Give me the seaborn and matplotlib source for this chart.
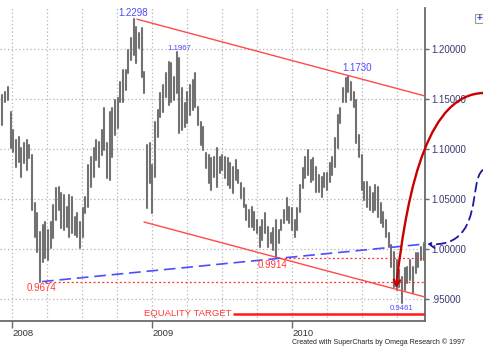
import numpy as np
import pandas as pd
import matplotlib
matplotlib.use("Agg")
import matplotlib.pyplot as plt
from matplotlib.path import Path
from matplotlib.patches import FancyArrowPatch, Rectangle
import seaborn as sns

# ---------------- data (weekly bars) ----------------
start_date = "2007-12-07"
highs = [1.154, 1.157, 1.162, 1.137, 1.119, 1.109, 1.112, 1.101, 1.106, 1.109,
         1.104, 1.094, 1.046, 1.036, 1.017, 1.024, 1.027, 1.019, 1.027, 1.044,
         1.061, 1.062, 1.056, 1.054, 1.042, 1.054, 1.052, 1.032, 1.036, 1.027,
         1.041, 1.052, 1.084, 1.092, 1.101, 1.109, 1.107, 1.119, 1.141, 1.106,
         1.137, 1.141, 1.149, 1.151, 1.167, 1.179, 1.179, 1.199, 1.211, 1.2298,
         1.222, 1.216, 1.221, 1.177, 1.104, 1.106, 1.084, 1.127, 1.139, 1.156,
         1.164, 1.176, 1.187, 1.186, 1.172, 1.1967, 1.191, 1.161, 1.146, 1.157,
         1.164, 1.169, 1.176, 1.142, 1.127, 1.122, 1.096, 1.094, 1.091, 1.092,
         1.101, 1.092, 1.094, 1.092, 1.091, 1.086, 1.082, 1.089, 1.079, 1.066,
         1.061, 1.044, 1.039, 1.042, 1.037, 1.029, 1.022, 1.029, 1.036, 1.022,
         1.016, 1.021, 1.029, 1.019, 1.029, 1.039, 1.051, 1.042, 1.041, 1.029,
         1.041, 1.064, 1.081, 1.092, 1.099, 1.089, 1.091, 1.082, 1.074, 1.072,
         1.076, 1.076, 1.086, 1.092, 1.111, 1.134, 1.141, 1.161, 1.171, 1.1730,
         1.167, 1.157, 1.149, 1.114, 1.094, 1.067, 1.067, 1.062, 1.056, 1.064,
         1.062, 1.046, 1.037, 1.029, 1.016, 1.004, 0.997, 0.989, 0.979, 0.972,
         0.981, 0.982, 0.989, 0.982, 0.996, 0.996, 1.002, 1.006, 1.007]
lows = [1.124, 1.147, 1.149, 1.101, 1.097, 1.082, 1.087, 1.072, 1.086, 1.079,
        1.091, 1.039, 1.012, 0.997, 0.9674, 0.987, 0.991, 0.989, 1.001, 1.011,
        1.029, 1.039, 1.021, 1.019, 1.022, 1.012, 1.016, 1.014, 1.012, 1.001,
        1.012, 1.036, 1.042, 1.062, 1.072, 1.089, 1.082, 1.094, 1.099, 1.071,
        1.069, 1.092, 1.114, 1.121, 1.147, 1.147, 1.159, 1.176, 1.189, 1.194,
        1.186, 1.201, 1.172, 1.156, 1.041, 1.066, 1.036, 1.072, 1.112, 1.132,
        1.137, 1.152, 1.144, 1.147, 1.149, 1.156, 1.116, 1.119, 1.122, 1.126,
        1.134, 1.139, 1.142, 1.124, 1.104, 1.099, 1.081, 1.066, 1.059, 1.072,
        1.062, 1.076, 1.079, 1.071, 1.064, 1.061, 1.056, 1.069, 1.066, 1.051,
        1.042, 1.029, 1.022, 1.022, 1.019, 1.016, 1.002, 1.009, 1.016, 1.002,
        1.006, 0.999, 0.9914, 1.006, 1.019, 1.026, 1.029, 1.026, 1.019, 1.012,
        1.019, 1.037, 1.061, 1.071, 1.074, 1.067, 1.069, 1.057, 1.057, 1.052,
        1.062, 1.059, 1.067, 1.074, 1.082, 1.101, 1.126, 1.147, 1.147, 1.157,
        1.149, 1.142, 1.106, 1.092, 1.059, 1.049, 1.042, 1.039, 1.037, 1.039,
        1.032, 1.026, 1.022, 1.012, 1.002, 0.982, 0.962, 0.959, 0.962, 0.9461,
        0.959, 0.966, 0.969, 0.956, 0.976, 0.982, 0.989, 0.989, 0.992]

year_labels = ["2008", "2009", "2010"]
price_ticks = [0.95, 1.00, 1.05, 1.10, 1.15, 1.20]

# annotation values (decimal year, price)
peak_labels = [("1.2298", 2008.864, 1.236, 7.0, "#4b4bff"),
               ("1.1967", 2009.193, 1.201, 5.6, "#4b4bff"),
               ("1.1730", 2010.464, 1.181, 7.0, "#4b4bff"),
               ("0.9674", 2008.207, 0.961, 7.0, "#ff3b3b"),
               ("0.9914", 2009.864, 0.984, 7.0, "#ff3b3b"),
               ("0.9461", 2010.786, 0.9405, 5.6, "#4b4bff")]
upper_channel = ([2008.893, 2010.95], [1.2298, 1.153])
lower_channel = ([2008.943, 2010.95], [1.027, 0.952])
blue_trend = ([2008.214, 2010.95], [0.9674, 1.005])
support_levels = [(2008.236, 0.9674), (2009.914, 0.9914)]
equality_target = 0.935
equality_start = 2009.579
red_curve = [(2011.364, 1.156), (2010.986, 1.154), (2010.829, 1.069), (2010.743, 0.961)]
blue_curve = [(2011.364, 1.079), (2011.257, 1.069), (2011.379, 1.001), (2010.968, 1.005)]

# ---------------- build frame ----------------
dates = pd.date_range(start_date, periods=len(highs), freq="W-FRI")
dec_year = dates.year + (dates.dayofyear - 1) / np.where(dates.is_leap_year, 366, 365)
df = pd.DataFrame({
    "x": np.concatenate([dec_year, dec_year]),
    "price": np.concatenate([highs, lows]),
    "bar": np.concatenate([np.arange(len(highs)), np.arange(len(highs))]),
})

sns.set_style("white")
plt.rcParams["font.family"] = ["Liberation Sans", "DejaVu Sans"]

W, H = 483, 351
fig = plt.figure(figsize=(W / 100, H / 100), dpi=100)
ax = fig.add_axes([0, 1 - 321 / H, 425 / W, (321 - 8) / H])

XMIN, XMAX = 2007.914, 2010.95
YMIN, YMAX = 0.928, 1.241

# grid
grid_kw = dict(color="#b4b4b4", lw=0.9, ls=(0, (1, 2)), zorder=0)
for q in np.arange(2008.0, 2010.95, 0.25):
    ax.axvline(q, **grid_kw)
for p in price_ticks:
    ax.axhline(p, **grid_kw)

sns.lineplot(data=df, x="x", y="price", units="bar", estimator=None,
             color="#727272", lw=1.5, legend=False, ax=ax, zorder=3)

# channels and levels
ax.plot(*upper_channel, color="#ff4a4a", lw=1.0, zorder=4)
ax.plot(*lower_channel, color="#ff4a4a", lw=1.0, zorder=4)
ax.plot(*blue_trend, color="#4d4dff", lw=1.2, dashes=(7, 3.5), zorder=5)
for x0, lvl in support_levels:
    ax.plot([x0, XMAX], [lvl, lvl], color="#ff2a2a", lw=0.9, ls=(0, (1.5, 2)), zorder=4)
ax.plot([equality_start, XMAX], [equality_target, equality_target],
        color="#ff1a1a", lw=1.8, zorder=4, solid_capstyle="butt")
ax.text(2009.257, equality_target, "EQUALITY TARGET", color="#ff3b3b",
        fontsize=6.8, ha="center", va="center", zorder=6)

for txt, x, y, fs, col in peak_labels:
    ax.text(x, y, txt, color=col, fontsize=fs, ha="center", va="center", zorder=6)

# arrows
codes = [Path.MOVETO, Path.CURVE4, Path.CURVE4, Path.CURVE4]
arr1 = FancyArrowPatch(path=Path(red_curve, codes), arrowstyle="->,head_length=4,head_width=2.2",
                       color="#c80000", lw=1.7, mutation_scale=1, clip_on=False, zorder=7)
ax.add_patch(arr1)
arr2 = FancyArrowPatch(path=Path(blue_curve, codes), arrowstyle="->,head_length=4,head_width=2.5",
                       color="#1a1aa6", lw=1.3, ls=(0, (5, 3)), mutation_scale=1,
                       clip_on=False, zorder=7)
ax.add_patch(arr2)

# axes
ax.set_xlim(XMIN, XMAX)
ax.set_ylim(YMIN, YMAX)
ax.set_xlabel("")
ax.set_ylabel("")
for s in ["left", "top"]:
    ax.spines[s].set_visible(False)
for s in ["right", "bottom"]:
    ax.spines[s].set_color("#6a6a6a")
    ax.spines[s].set_linewidth(1.3)

ax.set_xticks([2008, 2009, 2010])
ax.set_xticklabels(year_labels)
ax.tick_params(axis="x", direction="out", length=5, width=1, color="#6a6a6a",
               labelsize=6.8, labelcolor="#333333", pad=0.5, bottom=True)
for lab in ax.get_xticklabels():
    lab.set_ha("left")

ax.yaxis.tick_right()
ax.set_yticks(price_ticks)
ax.set_yticklabels([("%.5f" % p).lstrip("0") if p < 1 else "%.5f" % p for p in price_ticks])
ax.tick_params(axis="y", direction="out", length=3, width=1, color="#6a6a6a",
               labelsize=7.0, labelcolor="#3a3a72", pad=1.5, right=True, left=False)

# small icon top-right
fig.patches.append(Rectangle((475 / W, 1 - 23 / H), 8 / W, 9 / H, transform=fig.transFigure,
                             fill=False, ec="#9a9a9a", lw=0.8))
fig.text(479 / W, 1 - 18.5 / H, "+", color="#2a4fd0", fontsize=7, ha="center", va="center",
         fontweight="bold")

fig.text(292 / W, 1 - 342 / H, "Created with SuperCharts by Omega Research \u00a9 1997",
         fontsize=5.0, color="#222222", ha="left", va="center")

fig.savefig("out.png", dpi=100)
